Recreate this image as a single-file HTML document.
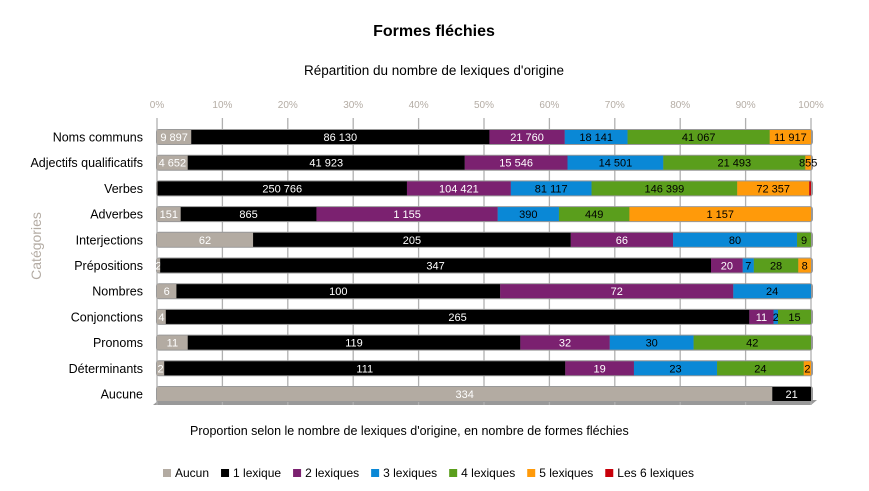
<!DOCTYPE html>
<html><head><meta charset="utf-8"><style>
body{margin:0;background:#fff;font-family:"Liberation Sans","DejaVu Sans",sans-serif}
svg{display:block}
</style></head><body>
<svg id="c" width="869" height="491">
<text x="434" y="36" text-anchor="middle" font-size="16" font-weight="bold">Formes fléchies</text>
<text x="434" y="75" text-anchor="middle" font-size="13.5">Répartition du nombre de lexiques d'origine</text>
<text transform="translate(41,246) rotate(-90)" text-anchor="middle" font-size="14" fill="#b4aca4">Catégories</text>
<text x="190" y="435" font-size="12.5">Proportion selon le nombre de lexiques d'origine, en nombre de formes fléchies</text>
<g id="grid"></g><g id="bars"></g><g id="legend"></g>
</svg>
<script>
const categories=["Noms communs","Adjectifs qualificatifs","Verbes","Adverbes","Interjections","Prépositions","Nombres","Conjonctions","Pronoms","Déterminants","Aucune"];
const seriesNames=["Aucun","1 lexique","2 lexiques","3 lexiques","4 lexiques","5 lexiques","Les 6 lexiques"];
const aucun=[9897,4652,469,151,62,2,6,4,11,2,334];
const lex1=[86130,41923,250766,865,205,347,100,265,119,111,21];
const lex2=[21760,15546,104421,1155,66,20,72,11,32,19,0];
const lex3=[18141,14501,81117,390,80,7,24,2,30,23,0];
const lex4=[41067,21493,146399,449,9,28,0,15,42,24,0];
const lex5=[11917,855,72357,1157,0,8,0,0,0,2,0];
const lex6=[0,0,1800,0,0,0,0,0,0,0,0];
const ticks=["0%","10%","20%","30%","40%","50%","60%","70%","80%","90%","100%"];
const series=[aucun,lex1,lex2,lex3,lex4,lex5,lex6];
const colors=["#b3aba2","#000000","#7b2170","#0a88d6","#5a9e1c","#ff9a0a","#c8000a"];
const txtCol=["#fff","#fff","#fff","#000","#000","#000","#fff"];
const NS="http://www.w3.org/2000/svg";
const x0=157,x1=811,yTop=118,yBot=405,rowH=25.7,row0=137,bh=14;
const X=p=>x0+(x1-x0)*p;
const Y=i=>row0+i*rowH;
function mk(t,a,p){const e=document.createElementNS(NS,t);for(const k in a)e.setAttribute(k,a[k]);p.appendChild(e);return e;}
const grid=document.getElementById('grid'),bars=document.getElementById('bars'),leg=document.getElementById('legend');
const fl=mk('polygon',{points:`${x0-4},${yBot} ${x1},${yBot} ${x1+6},${yBot-5} ${x0+2},${yBot-5}`,fill:"#999"},grid);

ticks.forEach((t,i)=>{
 const x=X(i/10);
 const l=mk('line',{x1:x,x2:x,y1:yTop,y2:yBot,stroke:"#b0b0b0","stroke-width":1.3},grid);
 
 const tx=mk('text',{x:x,y:108,"text-anchor":"middle","font-size":10,fill:"#b4aca4"},grid);
 tx.textContent=t;
 
});
categories.forEach((c,i)=>{
 const y=Y(i);
 const lb=mk('text',{x:143,y:y+4.5,"text-anchor":"end","font-size":12.5},bars);
 lb.textContent=c;
 
 const tot=series.reduce((s,a)=>s+a[i],0);
 const bg=mk('rect',{x:x0-1,y:y-bh/2-1,width:x1-x0+3,height:bh+2,rx:3,fill:"#999"},bars);
 
 let acc=0;
 series.forEach((s,k)=>{
  const v=s[i]; if(v<=0){return;}
  const xa=X(acc/tot),xb=X((acc+v)/tot);acc+=v;
  const r=mk('rect',{x:xa,y:y-bh/2,width:Math.max(xb-xa,0),height:bh,fill:colors[k]},bars);
  
  if(xb-xa>3){
   const t=mk('text',{x:(xa+xb)/2,y:y+4,"text-anchor":"middle","font-size":11,fill:txtCol[k]},bars);
   t.textContent=v.toLocaleString('fr-FR').replace(/\u202f|\u00a0/g,' ');
   
  }
 });
});
let lx=163;
seriesNames.forEach((n,k)=>{
 const g=mk('g',{},leg);
 
 mk('rect',{x:lx,y:469,width:8,height:8,fill:colors[k]},g);
 const t=mk('text',{x:lx+12,y:477,"font-size":12},g);t.textContent=n;
 lx+=12+t.getComputedTextLength()+12;
});
</script>
</body></html>
